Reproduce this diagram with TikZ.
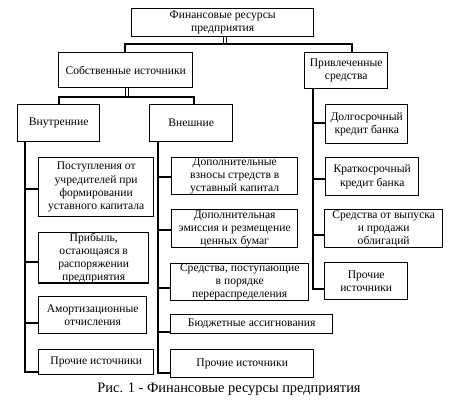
\documentclass[tikz,border=0pt]{standalone}
\usepackage{fontspec}
\setmainfont{Liberation Serif}
\begin{document}
\begin{tikzpicture}[x=1pt,y=-1pt,
  bx/.style={draw,line width=1.4pt,inner sep=0pt,align=center,anchor=north west,
    font=\fontsize{11.6}{13.2}\selectfont},
  ln/.style={line width=1.4pt},
  dbl/.style={line width=1.1pt,double,double distance=2.2pt}]
\useasboundingbox (0,0) rectangle (463,408);
\newcommand{\mybox}[6]{\node[bx,minimum width=#4-#2,minimum height=#5-#3] (#1) at (#2,#3) {#6};}
\mybox{top}{131}{8}{313}{36}{Финансовые ресурсы\\предприятия}
\mybox{own}{58}{52}{192}{87}{Собственные источники}
\mybox{att}{304}{52}{387}{88}{Привлеченные\\средства}
\mybox{int}{17}{104}{99}{141}{Внутренние}
\mybox{ext}{149}{104}{232}{141}{Внешние}
\mybox{L1}{38}{157}{153}{216}{Поступления от\\учредителей при\\формировании\\уставного капитала}
\mybox{L2}{38}{232}{148}{281}{Прибыль,\\остающаяся в\\распоряжении\\предприятия}
\mybox{L3}{38}{296}{146}{333}{Амортизационные\\отчисления}
\mybox{L4}{38}{349}{153}{374}{Прочие источники}
\mybox{M1}{171}{157}{297}{194}{Дополнительные\\взносы стредств в\\уставный капитал}
\mybox{M2}{171}{209}{297}{247}{Дополнительная\\эмиссия и резмещение\\ценных бумаг}
\mybox{M3}{170}{263}{308}{299}{Средства, поступающие\\в порядке\\перераспределения}
\mybox{M4}{170}{314}{332}{333}{Бюджетные ассигнования}
\mybox{M5}{170}{349}{313}{377}{Прочие источники}
\mybox{R1}{325}{104}{407}{143}{Долгосрочный\\кредит банка}
\mybox{R2}{325}{157}{418}{195}{Краткосрочный\\кредит банка}
\mybox{R3}{324}{209}{442}{247}{Средства от выпуска\\и продажи\\облигаций}
\mybox{R4}{324}{262}{407}{299}{Прочие\\источники}
\node[font=\fontsize{14.4}{16}\selectfont] (cap) at (229,389) {Рис. 1 - Финансовые ресурсы предприятия};
% spines
\coordinate (b1) at (0,44);
\coordinate (b2) at (0,97);
\coordinate (lsp) at (25,0);
\coordinate (msp) at (158,0);
\coordinate (rsp) at (313,0);
% top level
\draw[dbl] ([xshift=2pt]top.south) -- ([xshift=2pt]top.south |- b1);
\draw[ln] (own.north -| 125,0) |- (b1 -| 352,0) -- (att.north -| 352,0);
\draw[dbl] ([xshift=1pt]own.south) -- ([xshift=1pt]own.south |- b2);
\draw[ln] (int.north -| 59,0) |- (b2 -| 194,0) -- (ext.north -| 194,0);
% left
\draw[ln] (int.south -| lsp) -- (lsp |- 0,372) -- (L4.west |- 0,372);
\draw[ln] (lsp |- 0,189) -- (L1.west |- 0,189);
\draw[ln] (lsp |- 0,262) -- (L2.west |- 0,262);
\draw[ln] (lsp |- 0,323) -- (L3.west |- 0,323);
% middle
\draw[ln] (ext.south -| msp) -- (msp |- 0,373) -- (M5.west |- 0,373);
\draw[ln] (msp |- 0,177) -- (M1.west |- 0,177);
\draw[ln] (msp |- 0,230) -- (M2.west |- 0,230);
\draw[ln] (msp |- 0,288) -- (M3.west |- 0,288);
\draw[ln] (msp |- 0,332) -- (M4.west |- 0,332);
% right
\draw[ln] (att.south -| rsp) -- (rsp |- 0,289) -- (R4.west |- 0,289);
\draw[ln] (rsp |- 0,123) -- (R1.west |- 0,123);
\draw[ln] (rsp |- 0,179) -- (R2.west |- 0,179);
\draw[ln] (rsp |- 0,235) -- (R3.west |- 0,235);
\end{tikzpicture}
\end{document}
